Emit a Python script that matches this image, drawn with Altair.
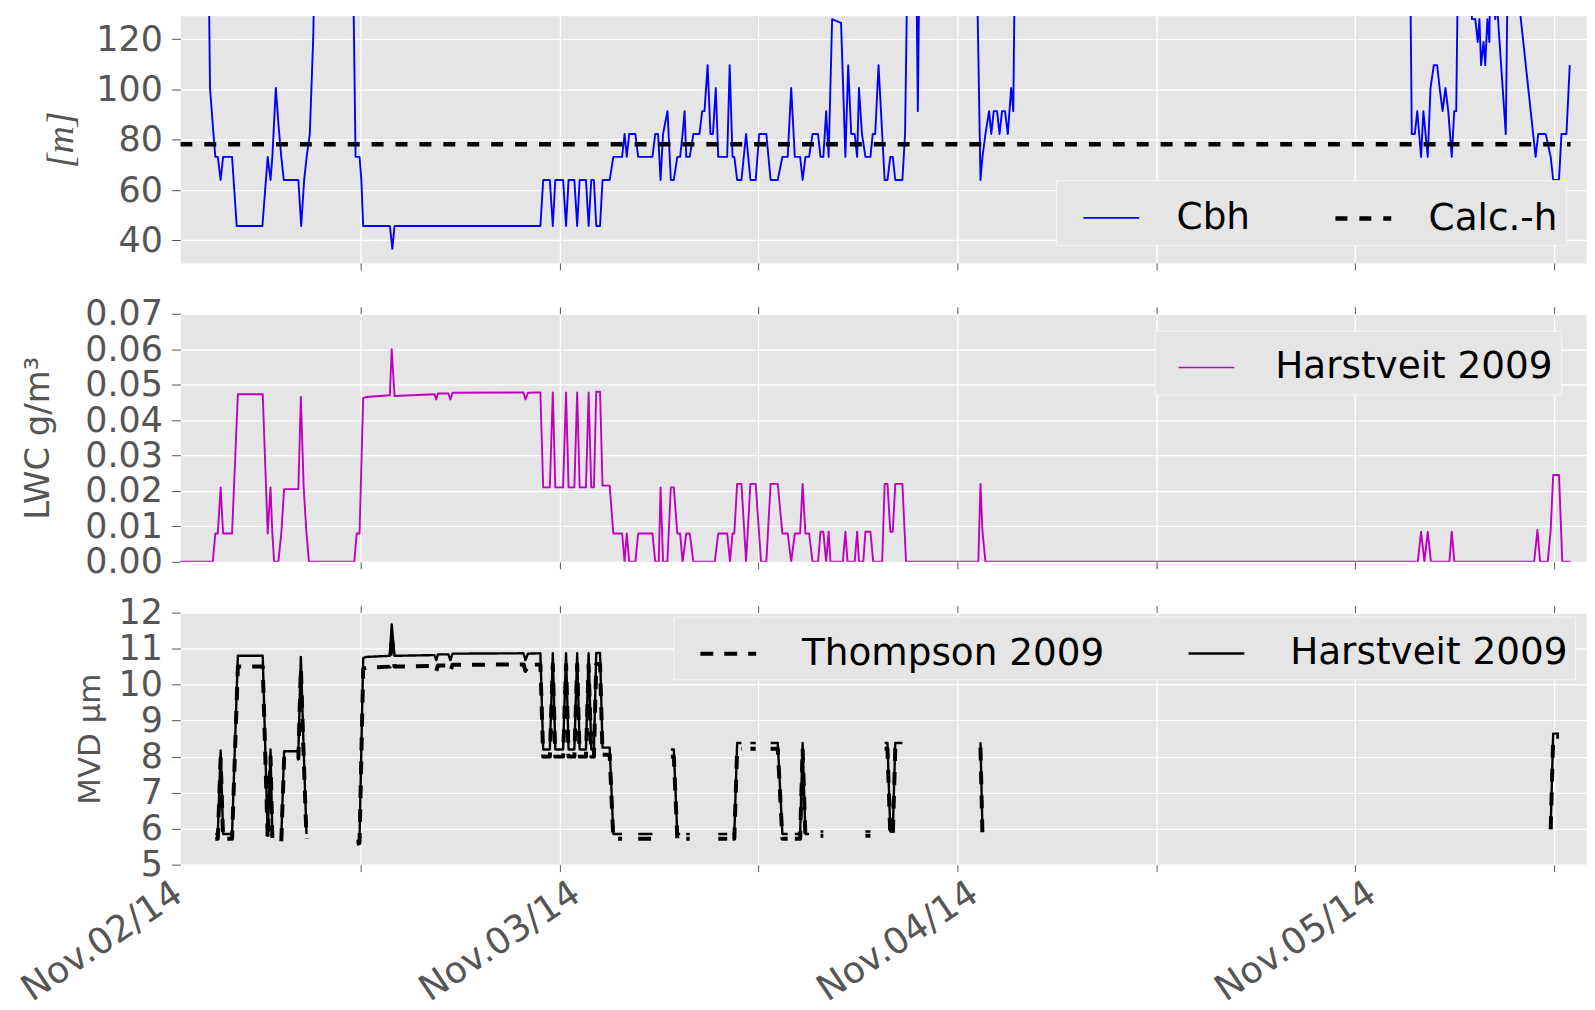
import altair as alt
import pandas as pd

# ---------------- data ----------------
DAY_LABELS = ["Nov.02/14", "Nov.03/14", "Nov.04/14", "Nov.05/14"]
DAY_LABEL_TICKS = [12, 36, 60, 84]          # label of each day is drawn 12 h left of these ticks
TICK_HOURS = [12, 24, 36, 48, 60, 72, 84]   # hours after Nov.02 00:00
X_DOMAIN = [1.13, 85.93]

# cloud base height [m]  (hour, value); values above the axis run off the top
CBH_POINTS = [
    (1.13, 200), (2.75, 200), (2.92, 100.6), (3.13, 82.3), (3.24, 73.2), (3.39, 73.2), (3.56, 64.0),
    (3.71, 73.2), (4.25, 73.2), (4.53, 45.7), (6.08, 45.7), (6.40, 73.2), (6.57, 64.0), (6.68, 73.2),
    (6.89, 100.6), (7.05, 86.0), (7.22, 73.2), (7.37, 64.0), (8.25, 64.0), (8.42, 45.7), (8.60, 64.0),
    (8.75, 73.2), (8.94, 82.3), (9.15, 121.3), (9.35, 200),
    (11.45, 200), (11.70, 73.2), (11.94, 73.2), (12.05, 64.0), (12.16, 45.7), (13.77, 45.7), (13.92, 36.6),
    (14.05, 45.7), (22.85, 45.7),
    (23.02, 64.0), (23.42, 64.0), (23.60, 45.7), (23.75, 64.0), (24.22, 64.0), (24.40, 45.7), (24.55, 64.0),
    (24.90, 64.0), (25.07, 45.7), (25.22, 64.0), (25.60, 64.0), (25.76, 45.7), (25.92, 64.0), (26.08, 64.0),
    (26.22, 45.7), (26.45, 45.7), (26.60, 64.0), (27.03, 64.0),
    (27.25, 73.2), (27.78, 73.2), (27.93, 82.3), (28.06, 73.2), (28.21, 82.3), (28.58, 82.3), (28.75, 73.2),
    (29.61, 73.2), (29.78, 82.3), (29.95, 82.3), (30.10, 64.0), (30.25, 82.3), (30.52, 91.4), (30.72, 64.0),
    (30.90, 64.0), (31.11, 73.2), (31.28, 73.2), (31.43, 82.3), (31.55, 91.4), (31.65, 73.2), (31.86, 73.2),
    (32.08, 82.3), (32.45, 82.3), (32.61, 91.4), (32.75, 91.4), (32.94, 109.7), (33.11, 82.3), (33.26, 82.3),
    (33.43, 100.6), (33.58, 73.2), (34.12, 73.2), (34.27, 109.7), (34.44, 73.2), (34.55, 73.2), (34.72, 64.0),
    (34.98, 64.0), (35.26, 82.3), (35.52, 64.0), (35.84, 64.0), (36.05, 82.3), (36.27, 82.3), (36.48, 82.3),
    (36.74, 64.0), (37.17, 64.0), (37.45, 73.2), (37.77, 73.2), (37.98, 100.6), (38.20, 73.2), (38.52, 73.2),
    (38.67, 64.0), (38.84, 73.2), (39.06, 73.2), (39.27, 82.3), (39.60, 82.3), (39.75, 73.2), (39.92, 73.2),
    (40.09, 91.4), (40.24, 73.2), (40.45, 128.0), (40.99, 126.5), (41.25, 73.2), (41.42, 109.7), (41.60, 82.3),
    (41.81, 82.3), (41.96, 73.2), (42.07, 100.6), (42.25, 82.3), (42.46, 73.2), (42.76, 73.2), (42.90, 82.3),
    (43.05, 82.3), (43.25, 109.7), (43.47, 82.3), (43.62, 64.0), (43.79, 64.0), (43.96, 73.2), (44.11, 73.2),
    (44.26, 64.0), (44.69, 64.0), (44.85, 82.3), (45.10, 200), (45.45, 200), (45.62, 91.4), (45.80, 200),
    (49.05, 200), (49.40, 64.0), (49.52, 73.2), (49.70, 82.3), (49.92, 91.4), (50.05, 82.3), (50.20, 91.4),
    (50.40, 91.4), (50.55, 82.3), (50.70, 91.4), (50.88, 91.4), (51.05, 82.3), (51.25, 100.6), (51.38, 91.4),
    (51.55, 200),
    (75.25, 200), (75.42, 82.3), (75.60, 82.3), (75.75, 91.4), (75.98, 73.2), (76.12, 91.4), (76.25, 82.3),
    (76.38, 73.2), (76.55, 100.6), (76.75, 109.7), (76.95, 109.7), (77.10, 100.6), (77.28, 91.4), (77.45, 100.6),
    (77.62, 91.4), (77.83, 73.2), (77.98, 91.4), (78.10, 91.4), (78.30, 200),
    (78.75, 200), (79.05, 128.0), (79.25, 128.0), (79.40, 118.9), (79.50, 128.0), (79.60, 109.7), (79.75, 118.9),
    (79.85, 109.7), (79.98, 128.0), (80.10, 118.9), (80.25, 200), (80.45, 128.0), (80.55, 135.0), (81.09, 82.3),
    (81.30, 200), (81.95, 131.0), (82.89, 73.2), (83.05, 82.3), (83.50, 82.3), (83.80, 73.2), (83.95, 64.0),
    (84.30, 64.0), (84.45, 82.3), (84.75, 82.3), (84.95, 109.7),
]
CALC_H_POINTS = [(1.13, 78.2), (85.0, 78.2)]

# liquid water content [g/m3]  (hour, value)
LWC_POINTS = [
    (1.13, 0.0), (3.09, 0.0), (3.24, 0.008), (3.39, 0.008), (3.56, 0.021), (3.71, 0.008), (4.25, 0.008),
    (4.60, 0.0473), (6.10, 0.0473), (6.40, 0.008), (6.57, 0.021), (6.68, 0.008), (6.79, 0.0), (7.04, 0.0),
    (7.22, 0.008), (7.39, 0.0205), (8.25, 0.0205), (8.40, 0.0465), (8.57, 0.021), (8.74, 0.008), (8.89, 0.0),
    (11.62, 0.0), (11.77, 0.008), (11.94, 0.008), (12.16, 0.0462), (12.37, 0.0465), (13.77, 0.047),
    (13.88, 0.060), (14.05, 0.0468), (16.46, 0.0473), (16.57, 0.0458), (16.67, 0.0475), (17.30, 0.0475),
    (17.42, 0.0458), (17.55, 0.0477), (21.83, 0.0478), (21.95, 0.0458), (22.10, 0.0477), (22.85, 0.0478),
    (23.02, 0.021), (23.42, 0.021), (23.60, 0.0478), (23.75, 0.021), (24.22, 0.021), (24.40, 0.0478),
    (24.55, 0.021), (24.90, 0.021), (25.07, 0.0478), (25.22, 0.021), (25.60, 0.021), (25.76, 0.0478),
    (25.92, 0.021), (26.08, 0.021), (26.22, 0.048), (26.45, 0.048), (26.60, 0.0215), (27.03, 0.0215),
    (27.25, 0.008), (27.78, 0.008), (27.93, 0.0), (28.06, 0.008), (28.21, 0.0), (28.58, 0.0), (28.75, 0.008),
    (29.61, 0.008), (29.78, 0.0), (29.99, 0.0), (30.10, 0.021), (30.25, 0.0), (30.51, 0.0), (30.72, 0.021),
    (30.90, 0.021), (31.11, 0.008), (31.28, 0.008), (31.43, 0.0), (31.65, 0.008), (31.86, 0.008), (32.08, 0.0),
    (33.37, 0.0), (33.58, 0.008), (34.12, 0.008), (34.29, 0.0), (34.44, 0.008), (34.55, 0.008), (34.72, 0.022),
    (34.98, 0.022), (35.26, 0.0), (35.52, 0.022), (35.84, 0.022), (36.16, 0.0), (36.48, 0.0), (36.74, 0.022),
    (37.17, 0.022), (37.45, 0.008), (37.77, 0.008), (37.98, 0.0), (38.20, 0.008), (38.52, 0.008), (38.67, 0.022),
    (38.84, 0.008), (39.06, 0.008), (39.27, 0.0), (39.60, 0.0), (39.75, 0.0085), (39.92, 0.0085), (40.09, 0.0),
    (40.24, 0.0085), (40.35, 0.0), (41.10, 0.0), (41.25, 0.0085), (41.38, 0.0), (41.81, 0.0), (41.96, 0.0085),
    (42.07, 0.0), (42.33, 0.0), (42.46, 0.0085), (42.76, 0.0085), (42.93, 0.0), (43.47, 0.0), (43.62, 0.022),
    (43.79, 0.022), (43.96, 0.0085), (44.11, 0.0085), (44.26, 0.022), (44.69, 0.022), (44.91, 0.0),
    (49.27, 0.0), (49.40, 0.022), (49.52, 0.0085), (49.70, 0.0),
    (75.78, 0.0), (75.98, 0.0085), (76.18, 0.0), (76.38, 0.0085), (76.58, 0.0), (77.69, 0.0), (77.83, 0.0085),
    (77.99, 0.0), (82.80, 0.0), (83.00, 0.009), (83.16, 0.0), (83.62, 0.0), (83.80, 0.009), (83.95, 0.0245),
    (84.30, 0.0245), (84.50, 0.0), (85.00, 0.0),
]

# median volume diameter [um]  (hour, value); None breaks the line
MVD_HARSTVEIT = [
    (3.24, 5.85), (3.39, 5.85), (3.56, 8.17), (3.71, 5.85), (4.25, 5.85), (4.60, 10.8), (6.10, 10.8),
    (6.40, 5.8), (6.57, 8.2), (6.68, 5.8), (6.79, None),
    (7.22, 5.75), (7.39, 8.15), (8.25, 8.15), (8.40, 10.77), (8.57, 8.2), (8.74, 5.85), (8.89, None),
    (11.77, 5.65), (11.94, 5.7), (12.16, 10.74), (12.37, 10.77), (13.77, 10.8), (13.88, 11.67), (14.05, 10.8),
    (16.46, 10.82), (16.57, 10.68), (16.67, 10.84), (17.30, 10.84), (17.42, 10.68), (17.55, 10.86),
    (21.83, 10.87), (21.95, 10.68), (22.10, 10.86), (22.85, 10.87), (23.02, 8.2), (23.42, 8.2), (23.60, 10.87),
    (23.75, 8.2), (24.22, 8.2), (24.40, 10.87), (24.55, 8.2), (24.90, 8.2), (25.07, 10.87), (25.22, 8.2),
    (25.60, 8.2), (25.76, 10.87), (25.92, 8.2), (26.08, 8.2), (26.22, 10.88), (26.45, 10.88), (26.60, 8.25),
    (27.03, 8.25), (27.25, 5.85), (27.78, 5.85), (27.93, None),
    (28.75, 5.85), (29.61, 5.85), (29.78, None),
    (30.72, 8.2), (30.90, 8.2), (31.11, 5.85), (31.28, 5.85), (31.43, None),
    (31.65, 5.85), (31.86, 5.85), (32.08, None),
    (33.58, 5.85), (34.12, 5.85), (34.29, None),
    (34.44, 5.85), (34.55, 5.85), (34.72, 8.38), (34.98, 8.38), (35.26, None),
    (35.52, 8.38), (35.84, 8.38), (36.16, None),
    (36.74, 8.38), (37.17, 8.38), (37.45, 5.85), (37.77, 5.85), (37.98, None),
    (38.20, 5.85), (38.52, 5.85), (38.67, 8.38), (38.84, 5.85), (39.06, 5.85), (39.27, None),
    (39.75, 5.92), (39.92, 5.92), (40.09, None),
    (42.46, 5.92), (42.76, 5.92), (42.93, None),
    (43.62, 8.38), (43.79, 8.38), (43.96, 5.92), (44.11, 5.92), (44.26, 8.38), (44.69, 8.38), (44.91, None),
    (49.40, 8.4), (49.52, 5.92), (49.70, None),
    (83.80, 6.07), (83.95, 8.64), (84.30, 8.64),
]
MVD_THOMPSON = [
    (3.24, 5.72), (3.39, 5.72), (3.56, 7.95), (3.71, 5.72), (4.25, 5.72), (4.60, 10.5), (6.10, 10.5),
    (6.40, 5.7), (6.57, 8.0), (6.68, 5.7), (6.79, None),
    (7.22, 5.65), (7.39, 7.95), (8.25, 7.95), (8.40, 10.47), (8.57, 8.0), (8.74, 5.72), (8.89, None),
    (11.77, 5.58), (11.94, 5.6), (12.16, 10.44), (12.37, 10.47), (13.77, 10.5), (13.88, 11.35), (14.05, 10.5),
    (16.46, 10.52), (16.57, 10.38), (16.67, 10.53), (17.30, 10.53), (17.42, 10.38), (17.55, 10.55),
    (21.83, 10.56), (21.95, 10.38), (22.10, 10.55), (22.85, 10.56), (23.02, 8.0), (23.42, 8.0), (23.60, 10.56),
    (23.75, 8.0), (24.22, 8.0), (24.40, 10.56), (24.55, 8.0), (24.90, 8.0), (25.07, 10.56), (25.22, 8.0),
    (25.60, 8.0), (25.76, 10.56), (25.92, 8.0), (26.08, 8.0), (26.22, 10.57), (26.45, 10.57), (26.60, 8.05),
    (27.03, 8.05), (27.25, 5.72), (27.78, 5.72), (27.93, None),
    (28.75, 5.72), (29.61, 5.72), (29.78, None),
    (30.72, 8.0), (30.90, 8.0), (31.11, 5.72), (31.28, 5.72), (31.43, None),
    (31.65, 5.72), (31.86, 5.72), (32.08, None),
    (33.58, 5.72), (34.12, 5.72), (34.29, None),
    (34.44, 5.72), (34.55, 5.72), (34.72, 8.22), (34.98, 8.22), (35.26, None),
    (35.52, 8.22), (35.84, 8.22), (36.16, None),
    (36.74, 8.22), (37.17, 8.22), (37.45, 5.72), (37.77, 5.72), (37.98, None),
    (38.20, 5.72), (38.52, 5.72), (38.67, 8.22), (38.84, 5.72), (39.06, 5.72), (39.27, None),
    (39.75, 5.8), (39.92, 5.8), (40.09, None),
    (42.46, 5.8), (42.76, 5.8), (42.93, None),
    (43.62, 8.22), (43.79, 8.22), (43.96, 5.8), (44.11, 5.8), (44.26, 8.22), (44.69, 8.22), (44.91, None),
    (49.40, 8.25), (49.52, 5.8), (49.70, None),
    (83.80, 5.98), (83.95, 8.55), (84.30, 8.55),
]

CBH_TICKS = [40, 60, 80, 100, 120]
LWC_TICKS = [0.0, 0.01, 0.02, 0.03, 0.04, 0.05, 0.06, 0.07]
MVD_TICKS = [5, 6, 7, 8, 9, 10, 11, 12]

# ---------------- styling ----------------
BG = "#E5E5E5"
GREY = "#555555"
FONT = "DejaVu Sans"
W = 1411
H1, H2, H3 = 248, 249, 253
LEG_FONT = 37.5


def rows(points, series):
    out, seg = [], 0
    for h, v in points:
        if v is None:
            seg += 1
            continue
        out.append({"hour": h, "value": v, "series": series, "seg": f"{series}-{seg}"})
    return out


p1_df = pd.DataFrame(rows(CBH_POINTS, "Cbh") + rows(CALC_H_POINTS, "Calc.-h"))
p2_df = pd.DataFrame(rows(LWC_POINTS, "Harstveit 2009"))
p3_df = pd.DataFrame(rows(MVD_THOMPSON, "Thompson 2009") + rows(MVD_HARSTVEIT, "Harstveit 2009"))

x_scale = alt.Scale(domain=X_DOMAIN, nice=False, zero=False)

label_expr = "".join(
    f"datum.value == {t} ? '{lab}' : " for t, lab in zip(DAY_LABEL_TICKS, DAY_LABELS)
) + "''"


def bottom_axis(with_labels):
    common = dict(values=TICK_HOURS, grid=True, gridColor="white", gridWidth=1.3, gridOpacity=1,
                  domain=False, ticks=True, tickSize=7, tickColor=GREY, tickWidth=1, title=None,
                  labelOverlap=False, labelFlush=False)
    if with_labels:
        return alt.Axis(labelExpr=label_expr, labelAngle=326, labelAlign="right", labelBaseline="top",
                        labelOffset=-193, labelPadding=3, labelFontSize=36.5, labelColor=GREY,
                        labelFont=FONT, labelLimit=500, **common)
    return alt.Axis(labels=False, **common)


top_axis = alt.Axis(orient="top", values=TICK_HOURS, grid=False, domain=False, ticks=True, tickSize=7,
                    tickColor=GREY, tickWidth=1, labels=False, title=None)


def y_axis(values, fmt, title, tfont, tstyle, tsize, tpad):
    return alt.Axis(values=values, format=fmt, grid=True, gridColor="white", gridWidth=1.3, gridOpacity=1,
                    domain=False, ticks=True, tickSize=9, tickColor=GREY, tickWidth=1,
                    labelFontSize=35, labelColor=GREY, labelFont=FONT, labelPadding=9,
                    labelOverlap=False, title=title, titleFont=tfont, titleFontStyle=tstyle,
                    titleFontSize=tsize, titleFontWeight="normal", titleColor=GREY, titlePadding=tpad)


def legend(x, y, cols, pad, sym_off, lab_off, col_pad):
    return alt.Legend(orient="none", legendX=x, legendY=y, direction="horizontal", columns=cols, title=None,
                      fillColor=BG, strokeColor="#F4F4F4", padding=pad, symbolOffset=sym_off,
                      labelOffset=lab_off, columnPadding=col_pad, labelFontSize=LEG_FONT, labelFont=FONT,
                      labelColor="black", labelLimit=600, symbolSize=3136, symbolType="stroke")


def tick_layer():
    return alt.Chart(pd.DataFrame({"hour": TICK_HOURS})).mark_point(opacity=0).encode(
        x=alt.X("hour:Q", scale=x_scale, axis=top_axis), y=alt.value(0))


# ---- panel 1: cloud base height ----
dom1 = ["Cbh", "Calc.-h"]
leg1 = legend(879, 165, 2, 8, 17, 35, 66)
panel1 = alt.Chart(p1_df).mark_line(clip=True, strokeJoin="round").encode(
    x=alt.X("hour:Q", scale=x_scale, axis=bottom_axis(False)),
    y=alt.Y("value:Q", scale=alt.Scale(domain=[31, 129.3], nice=False, zero=False),
            axis=y_axis(CBH_TICKS, "d", "[m]", "Liberation Serif", "italic", 38, 15)),
    color=alt.Color("series:N", scale=alt.Scale(domain=dom1, range=["#0000ff", "black"]), legend=leg1),
    strokeDash=alt.StrokeDash("series:N", scale=alt.Scale(domain=dom1, range=[[1, 0], [12, 12]]), legend=leg1),
    strokeWidth=alt.StrokeWidth("series:N", scale=alt.Scale(domain=dom1, range=[1.9, 4.5]), legend=leg1),
    detail="seg:N",
).properties(width=W, height=H1)

# ---- panel 2: LWC ----
leg2 = legend(978, 17, 1, 8, 15, 40, 10)
p2 = alt.Chart(p2_df).mark_line(clip=True, strokeJoin="round", strokeWidth=1.9).encode(
    x=alt.X("hour:Q", scale=x_scale, axis=bottom_axis(False)),
    y=alt.Y("value:Q", scale=alt.Scale(domain=[0, 0.07], nice=False, zero=False),
            axis=y_axis(LWC_TICKS, ".2f", "LWC g/m³", FONT, "normal", 34, 29)),
    color=alt.Color("series:N", scale=alt.Scale(domain=["Harstveit 2009"], range=["#bf00bf"]), legend=leg2),
)
panel2 = alt.layer(p2, tick_layer()).resolve_axis(x="independent").properties(width=W, height=H2)

# ---- panel 3: MVD ----
dom3 = ["Thompson 2009", "Harstveit 2009"]
leg3 = legend(495, 4, 2, 7, 18, 44, 64)
p3 = alt.Chart(p3_df).mark_line(clip=True, strokeJoin="round").encode(
    x=alt.X("hour:Q", scale=x_scale, axis=bottom_axis(True)),
    y=alt.Y("value:Q", scale=alt.Scale(domain=[5, 12], nice=False, zero=False),
            axis=y_axis(MVD_TICKS, "d", "MVD μm", FONT, "normal", 31, 12)),
    color=alt.Color("series:N", scale=alt.Scale(domain=dom3, range=["black", "black"]), legend=leg3),
    strokeDash=alt.StrokeDash("series:N", scale=alt.Scale(domain=dom3, range=[[13, 11], [1, 0]]), legend=leg3),
    strokeWidth=alt.StrokeWidth("series:N", scale=alt.Scale(domain=dom3, range=[4.0, 2.4]), legend=leg3),
    detail="seg:N",
)
panel3 = alt.layer(p3, tick_layer()).resolve_axis(x="independent").properties(width=W, height=H3)

chart = (
    alt.vconcat(panel1, panel2, panel3, spacing=51, bounds="flush")
    .resolve_scale(y="independent", color="independent", strokeDash="independent", strokeWidth="independent")
    .properties(padding={"left": 6, "top": 5, "right": 0, "bottom": 0})
    .configure_view(fill=BG, stroke="transparent")
)

chart.save("out.html", embed_options={"renderer": "svg", "actions": False})
